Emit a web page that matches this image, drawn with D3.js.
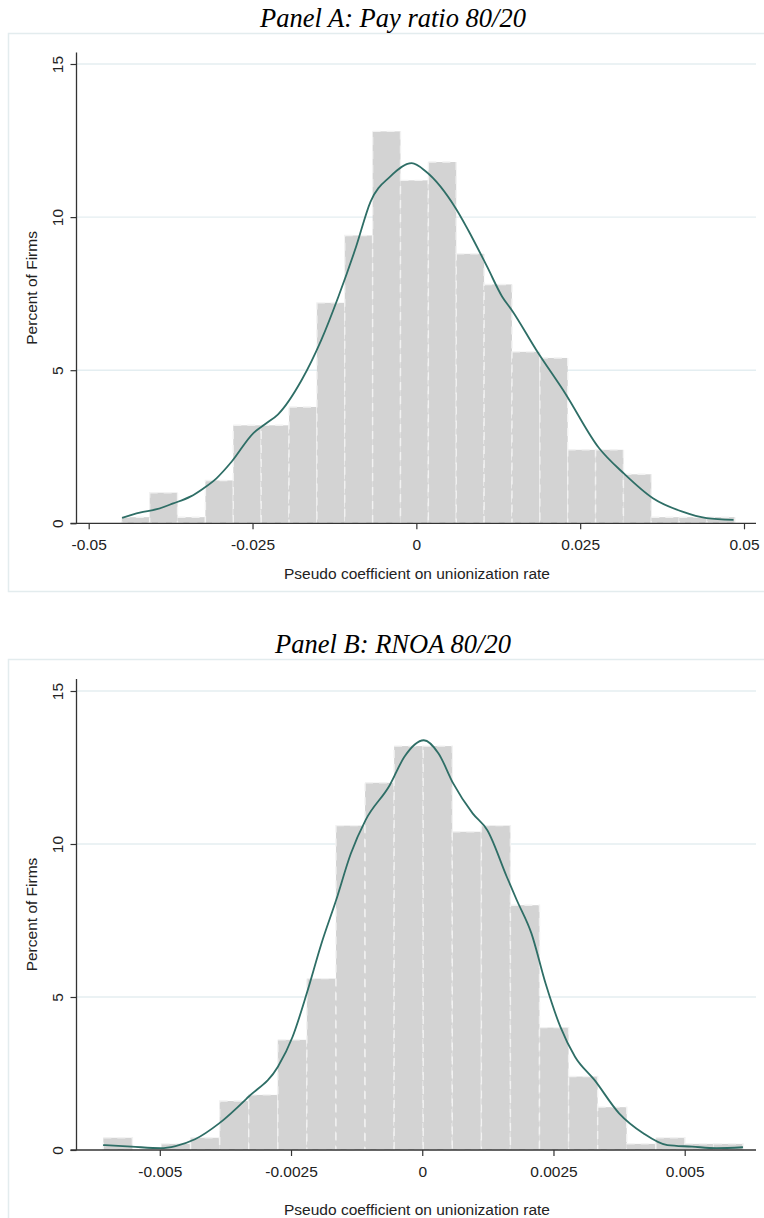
<!DOCTYPE html>
<html>
<head>
<meta charset="utf-8">
<script src="https://d3js.org/d3.v7.min.js"></script>
<style>
  body { margin: 0; background: #fff; }
  .title { font-family: "Liberation Serif", "Times New Roman", serif; font-style: italic; font-size: 26.5px; fill: #000; }
  .axis text, .axtitle { font-family: "Liberation Sans", Arial, sans-serif; font-size: 15.5px; fill: #222; }
</style>
</head>
<body>
<div id="chart"></div>
<script>
// ---- data ----
var yTicks = [0, 5, 10, 15];

// Panel A: Pay ratio 80/20
var payTicks = [-0.05, -0.025, 0, 0.025, 0.05];
var payTickLabels = ["-0.05", "-0.025", "0", "0.025", "0.05"];
var payBinStart = -0.04495, payBinWidth = 0.004253;
var payPercent = [0.2, 1.0, 0.2, 1.4, 3.2, 3.2, 3.8, 7.2, 9.4, 12.8, 11.2,
                  11.8, 8.8, 7.8, 5.6, 5.4, 2.4, 2.4, 1.6, 0.2, 0.2, 0.2];
var payDensity = [
  [-0.0449, 0.18], [-0.0422, 0.35], [-0.0396, 0.46], [-0.0371, 0.65], [-0.0345, 0.87],
  [-0.0325, 1.14], [-0.0305, 1.47], [-0.0282, 2.01], [-0.0249, 2.94], [-0.0230, 3.25],
  [-0.0211, 3.56], [-0.0175, 4.68], [-0.0145, 5.99], [-0.0119, 7.40], [-0.0092, 9.03],
  [-0.0070, 10.50], [-0.0040, 11.32], [-0.0007, 11.76], [0.0015, 11.48], [0.0060, 10.29],
  [0.0079, 9.58], [0.0108, 8.38], [0.0131, 7.40], [0.0146, 6.95], [0.0183, 5.66],
  [0.0227, 4.25], [0.0279, 2.45], [0.0317, 1.62], [0.0361, 0.82], [0.0406, 0.38],
  [0.0443, 0.17], [0.0484, 0.11]
];

// Panel B: RNOA 80/20
var rnoaTicks = [-0.005, -0.0025, 0, 0.0025, 0.005];
var rnoaTickLabels = ["-0.005", "-0.0025", "0", "0.0025", "0.005"];
var rnoaBinStart = -0.006076, rnoaBinWidth = 0.000554;
var rnoaPercent = [0.4, 0.0, 0.2, 0.4, 1.6, 1.8, 3.6, 5.6, 10.6, 12.0, 13.2,
                   13.2, 10.4, 10.6, 8.0, 4.0, 2.4, 1.4, 0.2, 0.4, 0.2, 0.2];
var rnoaDensity = [
  [-0.00608, 0.16], [-0.00554, 0.11], [-0.00498, 0.06], [-0.00470, 0.13], [-0.00433, 0.35],
  [-0.00387, 0.87], [-0.00331, 1.74], [-0.00275, 2.72], [-0.00247, 3.70], [-0.00220, 5.12],
  [-0.00192, 6.75], [-0.00164, 8.17], [-0.00136, 9.69], [-0.00108, 10.78], [-0.00062, 11.92],
  [-0.00034, 12.85], [0.00003, 13.39], [0.00031, 12.96], [0.00059, 11.98], [0.00096, 11.00],
  [0.00124, 10.45], [0.00161, 8.93], [0.00180, 8.17], [0.00208, 7.08], [0.00235, 5.44],
  [0.00263, 4.03], [0.00291, 3.05], [0.00328, 2.29], [0.00375, 1.20], [0.00421, 0.55],
  [0.00467, 0.16], [0.00514, 0.11], [0.00560, 0.06], [0.00611, 0.09]
];

var W = 764, H = 1218;
var svg = d3.select("#chart").append("svg")
    .attr("width", W)
    .attr("height", H);

function drawPanel(p) {
  var g = svg.append("g");

  // outer frame
  g.append("rect")
      .attr("x", 8.5).attr("y", p.frameTop)
      .attr("width", 760).attr("height", p.frameBottom - p.frameTop)
      .attr("fill", "none")
      .attr("stroke", "#e3ecee")
      .attr("stroke-width", 1.5);

  g.append("text")
      .attr("class", "title")
      .attr("x", 393)
      .attr("y", p.titleY)
      .attr("text-anchor", "middle")
      .text(p.title);

  var x = d3.scaleLinear().domain(p.xDomain).range(p.xRange);
  var y = d3.scaleLinear().domain([0, 15]).range(p.yRange);

  // gridlines
  g.append("g")
    .selectAll("line")
    .data(yTicks.filter(function(d) { return d > 0; }))
    .enter()
    .append("line")
      .attr("x1", 77).attr("x2", 756)
      .attr("y1", function(d) { return y(d); })
      .attr("y2", function(d) { return y(d); })
      .attr("stroke", "#e4eef1")
      .attr("stroke-width", 1.4);

  // bars
  g.append("g")
    .selectAll("rect")
    .data(p.bins)
    .enter()
    .append("rect")
      .attr("x", function(d, i) { return x(p.binStart + i * p.binWidth); })
      .attr("width", function(d, i) { return x(p.binStart + (i + 1) * p.binWidth) - x(p.binStart + i * p.binWidth); })
      .attr("y", function(d) { return y(d); })
      .attr("height", function(d) { return y(0) - y(d); })
      .attr("fill", "#d3d3d3")
      .attr("stroke", "#f2f2f2")
      .attr("stroke-width", 1.4)
      .attr("stroke-dasharray", "8,6")
      .style("display", function(d) { return d > 0 ? null : "none"; });

  // density curve
  var line = d3.line()
      .x(function(d) { return x(d[0]); })
      .y(function(d) { return y(d[1]); })
      .curve(d3.curveMonotoneX);

  g.append("path")
      .datum(p.density)
      .attr("d", line)
      .attr("fill", "none")
      .attr("stroke", "#2e6e66")
      .attr("stroke-width", 1.8);

  // x axis
  var xAxis = d3.axisBottom(x)
      .tickValues(p.ticks)
      .tickFormat(function(d, i) { return p.tickLabels[i]; })
      .tickSize(6)
      .tickPadding(9.5);
  var gx = g.append("g")
      .attr("class", "axis")
      .attr("transform", "translate(0," + y(0) + ")")
      .call(xAxis);
  gx.select(".domain").remove();
  gx.selectAll(".tick line").attr("stroke", "#333").attr("stroke-width", 1.2);
  gx.selectAll(".tick text").attr("fill", "#222");
  g.append("line")
      .attr("x1", 70.5).attr("x2", 756)
      .attr("y1", y(0)).attr("y2", y(0))
      .attr("stroke", "#333").attr("stroke-width", 1.3);

  // y axis
  var yAxis = d3.axisLeft(y)
      .tickValues(yTicks)
      .tickSize(6);
  var gy = g.append("g")
      .attr("class", "axis")
      .attr("transform", "translate(76.5,0)")
      .call(yAxis);
  gy.select(".domain").remove();
  gy.selectAll(".tick line").attr("stroke", "#333").attr("stroke-width", 1.2);
  gy.selectAll(".tick text")
      .attr("x", null).attr("dy", null)
      .attr("text-anchor", "middle")
      .attr("transform", "translate(-14,0) rotate(-90)")
      .attr("fill", "#222");
  g.append("line")
      .attr("x1", 76.5).attr("x2", 76.5)
      .attr("y1", p.axisTop).attr("y2", y(0))
      .attr("stroke", "#333").attr("stroke-width", 1.3);

  // axis titles
  g.append("text")
      .attr("class", "axtitle")
      .attr("x", 417)
      .attr("y", p.xTitleY)
      .attr("text-anchor", "middle")
      .text("Pseudo coefficient on unionization rate");

  g.append("text")
      .attr("class", "axtitle")
      .attr("text-anchor", "middle")
      .attr("transform", "translate(37," + ((p.axisTop + y(0)) / 2) + ") rotate(-90)")
      .text("Percent of Firms");
}

drawPanel({
  title: "Panel A: Pay ratio 80/20", titleY: 26.7,
  frameTop: 33.5, frameBottom: 591.5,
  xDomain: [-0.05, 0.05], xRange: [88.7, 744],
  yRange: [523.3, 64], axisTop: 52.5,
  ticks: payTicks, tickLabels: payTickLabels,
  bins: payPercent, binStart: payBinStart, binWidth: payBinWidth,
  density: payDensity, xTitleY: 578.5
});

drawPanel({
  title: "Panel B: RNOA 80/20", titleY: 653.3,
  frameTop: 659.5, frameBottom: 1222,
  xDomain: [-0.005, 0.005], xRange: [159.8, 684.7],
  yRange: [1150, 691], axisTop: 679,
  ticks: rnoaTicks, tickLabels: rnoaTickLabels,
  bins: rnoaPercent, binStart: rnoaBinStart, binWidth: rnoaBinWidth,
  density: rnoaDensity, xTitleY: 1214.5
});
</script>
</body>
</html>
